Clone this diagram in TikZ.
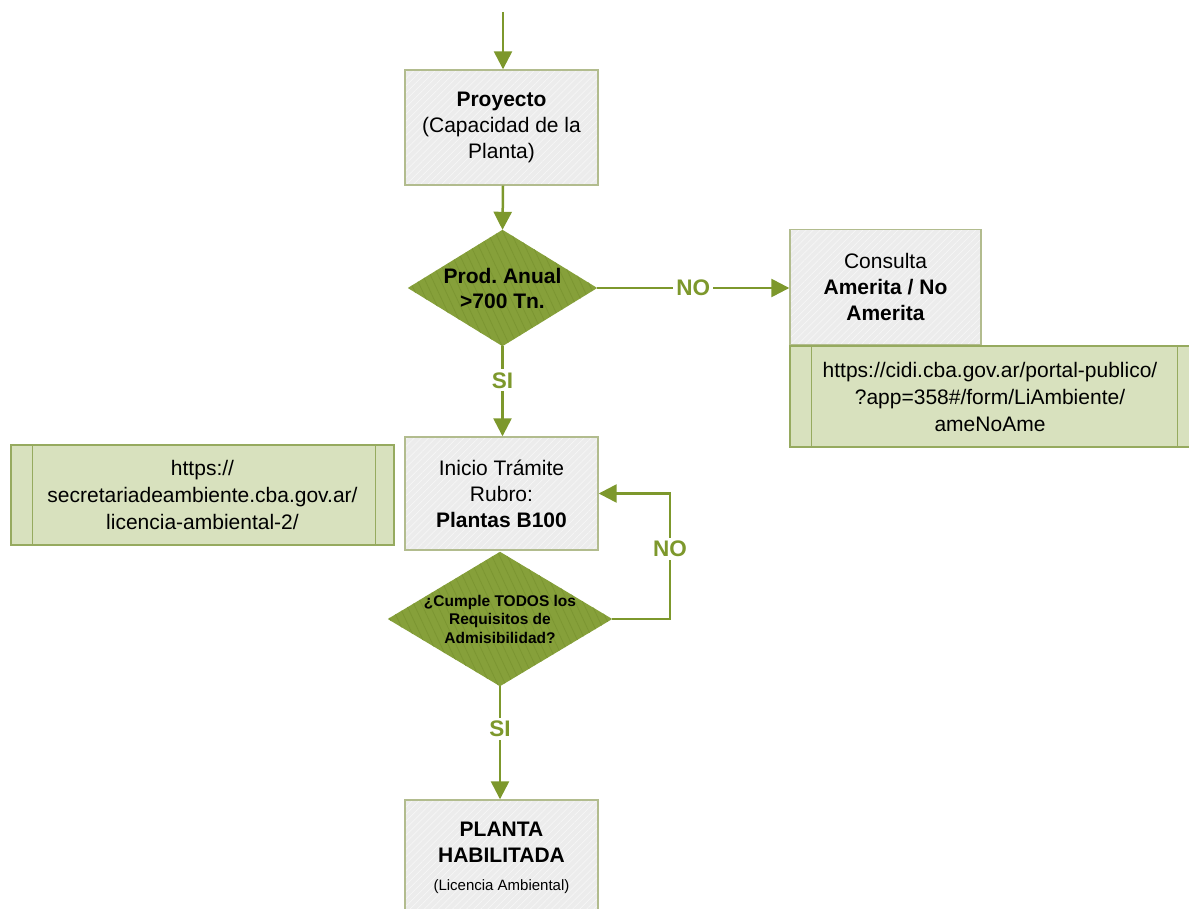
\documentclass[tikz,border=0pt]{standalone}
\usepackage{fontspec}
\setmainfont{Liberation Sans}
\usetikzlibrary{arrows.meta,patterns.meta}
\definecolor{olv}{RGB}{125,152,44}
\definecolor{dia}{RGB}{134,160,58}
\definecolor{diastripe}{RGB}{124,150,50}
\definecolor{boxgray}{RGB}{236,236,236}
\definecolor{boxline}{RGB}{178,188,142}
\definecolor{linkfill}{RGB}{216,225,190}
\definecolor{linkline}{RGB}{150,170,95}
\frenchspacing
\begin{document}
\begin{tikzpicture}[x=1pt,y=-1pt,
  font=\fontsize{21}{26}\selectfont,
  procbox/.style={draw=boxline, line width=1.4pt, minimum width=193pt,
    minimum height=115pt, align=center, inner sep=0pt,
    preaction={fill=boxgray},
    preaction={pattern={Lines[angle=45,distance=5pt,line width=0.7pt]}, pattern color=white!55!boxgray}},
  dec/.style={align=center, inner sep=0pt, font=\bfseries\fontsize{21}{25}\selectfont},
  decfill/.style={fill=dia, postaction={pattern={Lines[angle=-65,distance=7pt,line width=0.8pt]}, pattern color=diastripe}},
  linkbox/.style={draw=linkline, fill=linkfill, line width=1.4pt, align=center, inner sep=0pt,
    font=\fontsize{21}{27}\selectfont},
  linkedge/.style={draw=linkline, line width=1.4pt},
  flow/.style={draw=olv, line width=2.5pt, -{Triangle[width=18pt,length=18pt]}},
  lbl/.style={fill=white, text=olv, font=\bfseries\fontsize{22.5}{25}\selectfont, inner sep=3pt}
]
\useasboundingbox (0,0) rectangle (1189,909);
\clip (0,0) rectangle (1189,909);

% decision shapes (rectangular nodes whose side anchors are the diamond's corners)
\node[dec, minimum width=189pt, minimum height=116pt] (d1) at (502.5,288) {};
\fill[decfill] (d1.north) -- (d1.east) -- (d1.south) -- (d1.west) -- cycle;
\node[dec] at (d1.center) {Prod. Anual\\>700 Tn.};

\node[dec, minimum width=224pt, minimum height=134pt] (d2) at (500,619) {};
\fill[decfill] (d2.north) -- (d2.east) -- (d2.south) -- (d2.west) -- cycle;
\node[dec, font=\bfseries\fontsize{15.5}{18.5}\selectfont] at (d2.center)
  {¿Cumple TODOS los\\Requisitos de\\Admisibilidad?};

% boxes
\node[procbox] (proj) at (501.5,127.5) {\textbf{Proyecto}\\(Capacidad de la\\Planta)};
\node[procbox, minimum width=191pt] (cons) at (885.5,287) {Consulta\\\textbf{Amerita / No}\\\textbf{Amerita}};
\node[linkbox, minimum width=400pt, minimum height=101pt] (lk1) at (990,396.5)
  {https://cidi.cba.gov.ar/portal-publico/\\?app=358\#/form/LiAmbiente/\\ameNoAme};
\draw[linkedge] ([xshift=22pt]lk1.north west) -- ([xshift=22pt]lk1.south west);
\draw[linkedge] ([xshift=-13pt]lk1.north east) -- ([xshift=-13pt]lk1.south east);

\node[procbox, minimum height=113pt] (init) at (501.5,493.5) {Inicio Trámite\\Rubro:\\\textbf{Plantas B100}};
\node[linkbox, minimum width=383pt, minimum height=100pt] (lk2) at (202.5,495)
  {https://\\secretariadeambiente.cba.gov.ar/\\licencia-ambiental-2/};
\draw[linkedge] ([xshift=22pt]lk2.north west) -- ([xshift=22pt]lk2.south west);
\draw[linkedge] ([xshift=-19pt]lk2.north east) -- ([xshift=-19pt]lk2.south east);

\node[procbox] (plant) at (501.5,857.5)
  {\textbf{PLANTA}\\\textbf{HABILITADA}\\[2pt]{\fontsize{15}{18}\selectfont(Licencia Ambiental)}};

% connectors
\coordinate (start) at (503,12);
\draw[flow] (start) -- (start |- proj.north);
\draw[flow] (proj.south -| start) -- (d1.north);
\draw[flow] (d1.east) -- node[lbl, pos=0.5] {NO} (cons.west |- d1.east);
\draw[flow] (d1.south) -- node[lbl, pos=0.38] {SI} (d1.south |- init.north);
\coordinate (loopx) at (670,0);
\draw[flow] (d2.east) -- (d2.east -| loopx) -- node[lbl, pos=0.56] {NO} (init.east -| loopx) -- (init.east);
\draw[flow] (d2.south) -- node[lbl, pos=0.38] {SI} (d2.south |- plant.north);
\end{tikzpicture}
\end{document}
